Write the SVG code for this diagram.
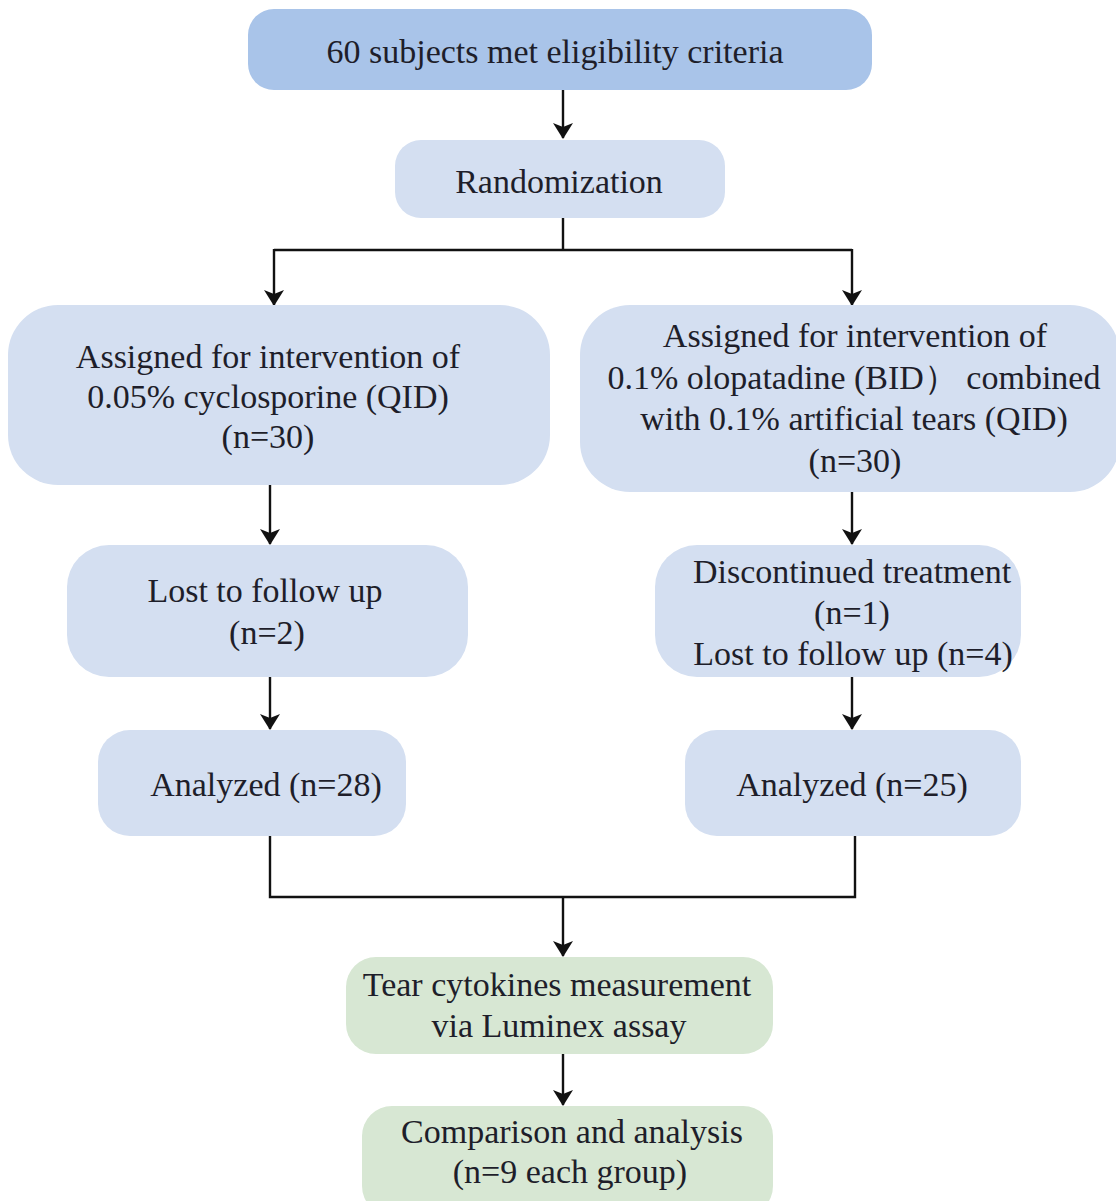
<svg xmlns="http://www.w3.org/2000/svg" width="1116" height="1201" viewBox="0 0 1116 1201">
<defs>
<style>
text{font-family:'Liberation Serif','Times New Roman',Times,serif;font-size:34px;fill:#1e1e2a;text-anchor:middle}
.b{fill:#d4dff1}
.g{fill:#d7e7d3}
.ln{stroke:#111;stroke-width:2.4;fill:none}
</style>
<marker id="ah" viewBox="0 0 16 20" refX="15" refY="10" markerWidth="16" markerHeight="20" markerUnits="userSpaceOnUse" orient="auto">
<path d="M0,0 L16,10 L0,20 L4,10 z" fill="#111"/>
</marker>
</defs>
<rect width="1116" height="1201" fill="#fff"/>
<g id="connectors">
<path class="ln" d="M563,90 V138" marker-end="url(#ah)"/>
<path class="ln" d="M563,218 V250 M274,250 H852"/>
<path class="ln" d="M274,249 V305" marker-end="url(#ah)"/>
<path class="ln" d="M852,249 V305" marker-end="url(#ah)"/>
<path class="ln" d="M270,485 V544" marker-end="url(#ah)"/>
<path class="ln" d="M852,492 V544" marker-end="url(#ah)"/>
<path class="ln" d="M270,677 V729" marker-end="url(#ah)"/>
<path class="ln" d="M852,677 V729" marker-end="url(#ah)"/>
<path class="ln" d="M270,836 V897 H855 V836"/>
<path class="ln" d="M563,897 V956" marker-end="url(#ah)"/>
<path class="ln" d="M563,1054 V1105" marker-end="url(#ah)"/>
</g>
<g id="n1"><rect x="248" y="9" width="624" height="81" rx="26" fill="#a9c4e9"/><text x="555" y="63">60 subjects met eligibility criteria</text></g>
<g id="n2"><rect class="b" x="395" y="140" width="330" height="78" rx="26"/><text x="559" y="193">Randomization</text></g>
<g id="n3"><rect class="b" x="8" y="305" width="542" height="180" rx="50"/>
<text x="268" y="368">Assigned for intervention of</text>
<text x="268" y="408">0.05% cyclosporine (QID)</text>
<text x="268" y="448">(n=30)</text></g>
<g id="n4"><rect class="b" x="580" y="305" width="540" height="187" rx="50"/>
<text x="855" y="347">Assigned for intervention of</text>
<text x="854" y="389">0.1% olopatadine (BID） combined</text>
<text x="854" y="430">with 0.1% artificial tears  (QID)</text>
<text x="855" y="472">(n=30)</text></g>
<g id="n5"><rect class="b" x="67" y="545" width="401" height="132" rx="42"/>
<text x="265" y="602">Lost to follow up</text>
<text x="267" y="644">(n=2)</text></g>
<g id="n6"><rect class="b" x="655" y="545" width="366" height="132" rx="42"/>
<text x="852" y="583">Discontinued treatment</text>
<text x="852" y="624">(n=1)</text>
<text x="853" y="665">Lost to follow up (n=4)</text></g>
<g id="n7"><rect class="b" x="98" y="730" width="308" height="106" rx="32"/>
<text x="266" y="796">Analyzed (n=28)</text></g>
<g id="n8"><rect class="b" x="685" y="730" width="336" height="106" rx="32"/>
<text x="852" y="796">Analyzed (n=25)</text></g>
<g id="n9"><rect class="g" x="346" y="957" width="427" height="97" rx="30"/>
<text x="557" y="996">Tear cytokines measurement</text>
<text x="559" y="1037">via Luminex assay</text></g>
<g id="n10"><rect class="g" x="362" y="1106" width="411" height="110" rx="30"/>
<text x="572" y="1143">Comparison and analysis</text>
<text x="570" y="1183">(n=9 each group)</text></g>
</svg>
